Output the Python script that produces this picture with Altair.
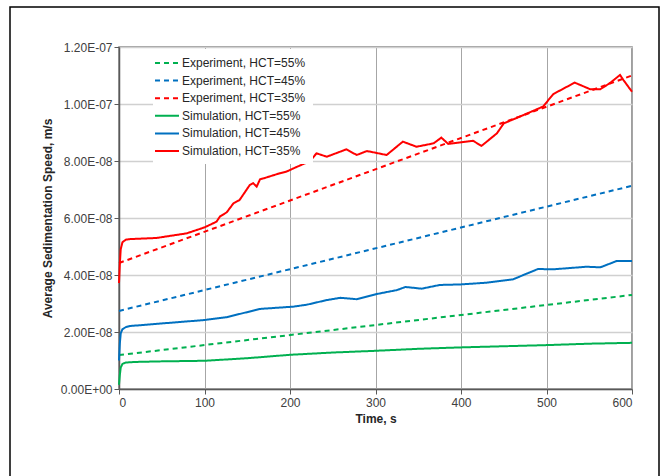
import altair as alt
import pandas as pd

# ---- data ----
series_names = [
    "Experiment, HCT=55%",
    "Experiment, HCT=45%",
    "Experiment, HCT=35%",
    "Simulation, HCT=55%",
    "Simulation, HCT=45%",
    "Simulation, HCT=35%",
]
series_colors = ["#00B050", "#0070C0", "#FF0000", "#00B050", "#0070C0", "#FF0000"]
series_dashes = [[5, 4], [5, 4], [5, 4], [1, 0], [1, 0], [1, 0]]

exp_time = [0, 600]
exp_55 = [1.19e-8, 3.30e-8]
exp_45 = [2.74e-8, 7.13e-8]
exp_35 = [4.42e-8, 1.10e-7]

sim55_time = [0, 1, 2, 4, 8, 20, 50, 100, 150, 200, 250, 300, 350, 400, 450, 500, 550, 600]
sim55_val = [1.5e-9, 5.0e-9, 7.5e-9, 8.8e-9, 9.3e-9, 9.5e-9, 9.7e-9, 9.9e-9, 1.08e-8, 1.20e-8,
             1.28e-8, 1.34e-8, 1.41e-8, 1.46e-8, 1.50e-8, 1.54e-8, 1.59e-8, 1.62e-8]

sim45_time = [0, 1, 2, 4, 8, 13, 50, 100, 126, 165, 204, 220, 243, 259, 278, 301, 325, 335,
              354, 375, 400, 430, 461, 490, 508, 547, 563, 582, 600]
sim45_val = [1.0e-8, 1.6e-8, 1.95e-8, 2.10e-8, 2.17e-8, 2.21e-8, 2.30e-8, 2.42e-8, 2.52e-8,
             2.81e-8, 2.89e-8, 2.96e-8, 3.12e-8, 3.20e-8, 3.15e-8, 3.33e-8, 3.47e-8, 3.58e-8,
             3.52e-8, 3.65e-8, 3.67e-8, 3.73e-8, 3.85e-8, 4.21e-8, 4.20e-8, 4.29e-8, 4.27e-8,
             4.49e-8, 4.49e-8]

sim35_time = [0, 1, 2, 4, 8, 13, 44, 79, 100, 114, 118, 126, 134, 136, 141, 153, 157, 161,
              165, 169, 188, 196, 204, 216, 223, 231, 243, 266, 278, 290, 313, 332, 348, 368,
              377, 385, 414, 424, 442, 450, 469, 496, 508, 533, 551, 563, 574, 586, 590, 600]
sim35_val = [3.72e-8, 4.4e-8, 4.9e-8, 5.15e-8, 5.24e-8, 5.26e-8, 5.30e-8, 5.46e-8, 5.67e-8,
             5.87e-8, 6.05e-8, 6.20e-8, 6.52e-8, 6.55e-8, 6.63e-8, 7.16e-8, 7.22e-8, 7.10e-8,
             7.36e-8, 7.39e-8, 7.57e-8, 7.63e-8, 7.74e-8, 7.90e-8, 7.98e-8, 8.27e-8, 8.15e-8,
             8.41e-8, 8.21e-8, 8.35e-8, 8.21e-8, 8.68e-8, 8.50e-8, 8.62e-8, 8.82e-8, 8.60e-8,
             8.71e-8, 8.53e-8, 8.97e-8, 9.32e-8, 9.56e-8, 9.91e-8, 1.035e-7, 1.075e-7,
             1.052e-7, 1.052e-7, 1.073e-7, 1.102e-7, 1.084e-7, 1.043e-7]

y_ticks = [0, 2e-8, 4e-8, 6e-8, 8e-8, 1e-7, 1.2e-7]
x_ticks = [0, 100, 200, 300, 400, 500, 600]

# ---- build long table ----
rows = []
for name, ts, vs in [
    (series_names[0], exp_time, exp_55),
    (series_names[1], exp_time, exp_45),
    (series_names[2], exp_time, exp_35),
    (series_names[3], sim55_time, sim55_val),
    (series_names[4], sim45_time, sim45_val),
    (series_names[5], sim35_time, sim35_val),
]:
    for t, v in zip(ts, vs):
        rows.append({"series": name, "time": t, "speed": v})
df = pd.DataFrame(rows)

FONT = "Liberation Sans"

ylab = ("datum.value == 0 ? '0.00E+00' : "
        "format(datum.value / pow(10, floor(log(datum.value)/LN10 + 1e-9)), '.2f') + 'E-' + "
        "((-floor(log(datum.value)/LN10 + 1e-9)) < 10 ? '0' : '') + "
        "(-floor(log(datum.value)/LN10 + 1e-9))")

lines = alt.Chart(df).mark_line(strokeWidth=2).encode(
    x=alt.X("time:Q", scale=alt.Scale(domain=[0, 600], nice=False),
            axis=alt.Axis(values=x_ticks, title="Time, s", format="d",
                          gridColor="#a6a6a6", gridWidth=1,
                          labelFontSize=12, titleFontSize=12, titleFontWeight="bold",
                          labelPadding=3, titlePadding=5, tickSize=5)),
    y=alt.Y("speed:Q", scale=alt.Scale(domain=[0, 1.2e-7], nice=False),
            axis=alt.Axis(values=y_ticks, title="Average Sedimentation Speed, m/s",
                          labelExpr=ylab, gridColor="#d0d0d0", gridWidth=1.5,
                          labelFontSize=12, titleFontSize=12, titleFontWeight="bold",
                          labelPadding=2, titlePadding=6, tickSize=5)),
    color=alt.Color("series:N",
                    scale=alt.Scale(domain=series_names, range=series_colors),
                    legend=alt.Legend(title=None, orient="none", legendX=34, legendY=2,
                                      symbolType="M-2,0H2", symbolSize=144,
                                      symbolStrokeWidth=2, labelFontSize=12,
                                      labelFont=FONT, labelColor="#262626",
                                      fillColor="white", padding=7, rowPadding=4.6,
                                      labelOffset=8, labelLimit=300)),
    strokeDash=alt.StrokeDash("series:N",
                              scale=alt.Scale(domain=series_names, range=series_dashes),
                              legend=alt.Legend(title=None, orient="none", legendX=34,
                                                legendY=2)),
    order=alt.Order("time:Q"),
)

frame = alt.Chart(pd.DataFrame({"a": [0]})).mark_rect(
    fill="transparent", stroke="black", strokeWidth=1.5
).encode(x=alt.value(-109), x2=alt.value(540), y=alt.value(-40), y2=alt.value(440))

chart = alt.layer(lines, frame).properties(
    width=513, height=342,
    padding={"left": 119, "top": 47, "right": 29, "bottom": 87},
    autosize=alt.AutoSizeParams(type="none"),
    background="white",
).configure_axis(
    labelFont=FONT, titleFont=FONT, labelColor="#404040", titleColor="#262626",
    domainColor="#595959", domainWidth=1.5, tickColor="#595959",
).configure_view(
    stroke="#808080", strokeWidth=1.5,
)

chart.save("out.html", embed_options={"renderer": "svg", "actions": False})
